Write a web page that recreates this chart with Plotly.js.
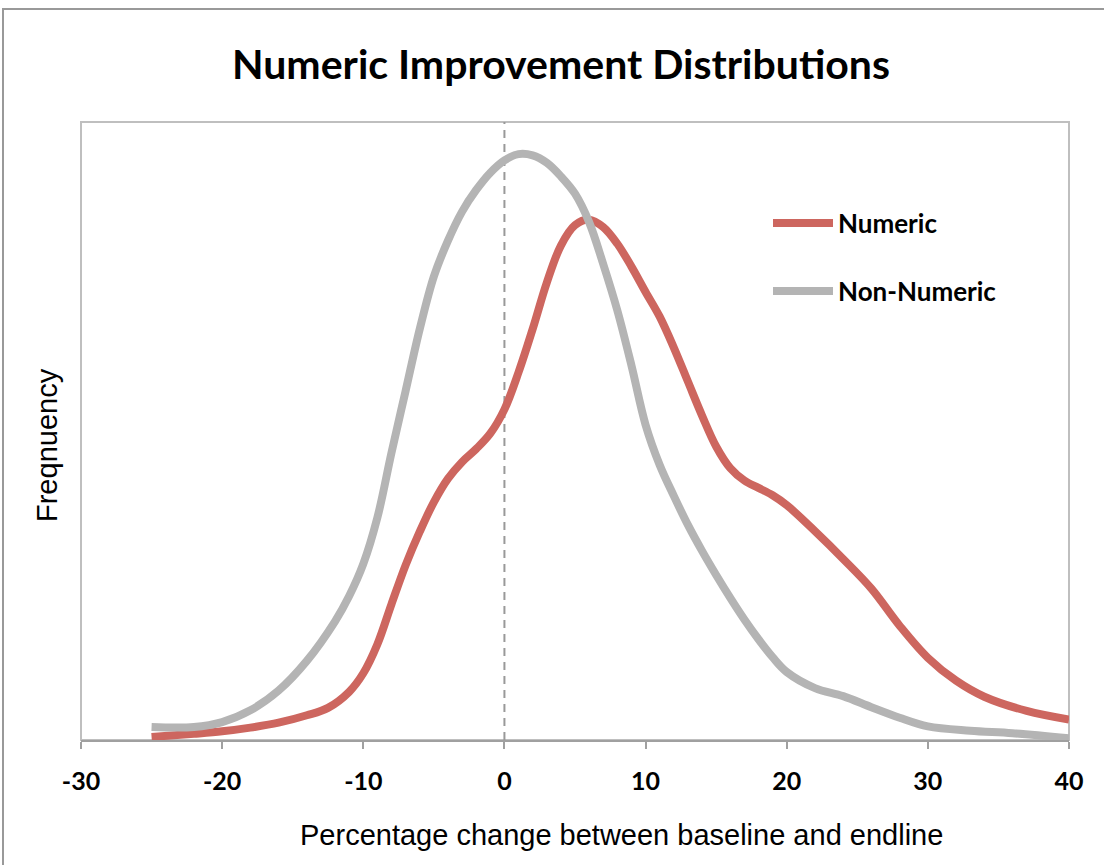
<!DOCTYPE html>
<html>
<head>
<meta charset="utf-8">
<script src="https://cdn.plot.ly/plotly-3.0.1.min.js"></script>
<style>
  html, body { margin: 0; padding: 0; background: #fff; }
  #chart { width: 1104px; height: 865px; }
</style>
</head>
<body>
<div id="chart"></div>
<script>
// Percentage change (x) and relative frequency (y, arbitrary units)
const numericX = [-25, -22, -20, -18, -16, -14, -12.5, -11, -10, -9, -8, -7, -6, -5, -4, -3, -2, -1, 0, 1, 2, 3, 4, 5, 6, 7, 8, 9, 10, 11, 12, 13, 14, 15, 16, 17, 18, 19, 20, 22, 24, 26, 28, 30, 32, 34, 37, 40];
const numericY = [0.5, 1.0, 1.4, 2.0, 2.8, 4.0, 5.2, 7.8, 10.8, 15.5, 22.0, 28.3, 33.7, 38.5, 42.3, 45.0, 47.1, 49.6, 53.5, 59.5, 66.5, 74.0, 80.0, 83.3, 84.2, 83.0, 80.3, 76.6, 72.5, 68.5, 63.5, 58.0, 52.5, 47.5, 44.0, 42.0, 40.8, 39.6, 38.0, 33.8, 29.3, 24.5, 18.5, 13.3, 9.6, 7.0, 4.7, 3.3];

const nonNumericX = [-25, -22, -20, -18, -16, -14, -12, -11, -10, -9, -8, -7, -6, -5, -4, -3, -2, -1, 0, 1, 2, 3, 4, 5, 6, 7, 8, 9, 10, 11, 12, 13, 14, 15, 16, 17, 18, 19, 20, 22, 24, 26, 28, 30, 33, 36, 40];
const nonNumericY = [2.1, 2.1, 2.9, 4.8, 8.0, 12.8, 19.2, 23.3, 28.5, 36.0, 46.5, 56.5, 66.5, 75.0, 80.8, 85.5, 89.0, 91.8, 93.8, 94.8, 94.6, 93.4, 91.2, 88.4, 83.8, 77.0, 69.5, 60.6, 51.0, 44.5, 39.5, 34.8, 30.6, 26.7, 23.0, 19.5, 16.3, 13.4, 11.0, 8.4, 7.1, 5.3, 3.6, 2.2, 1.5, 1.1, 0.3];

const xTicks = [-30, -20, -10, 0, 10, 20, 30, 40];
const seriesNames = ['Numeric', 'Non-Numeric'];
const seriesColors = ['#CD665F', '#B4B4B4'];
const xTitle = 'Percentage change between baseline and endline';
const yTitle = 'Freqnuency';

const traces = [
  {
    x: numericX, y: numericY, name: seriesNames[0], type: 'scatter', mode: 'lines',
    line: { color: seriesColors[0], width: 8, shape: 'spline', smoothing: 1 },
    legend: 'legend', hoverinfo: 'skip'
  },
  {
    x: nonNumericX, y: nonNumericY, name: seriesNames[1], type: 'scatter', mode: 'lines',
    line: { color: seriesColors[1], width: 8, shape: 'spline', smoothing: 1 },
    legend: 'legend2', hoverinfo: 'skip'
  }
];

const legendFont = { family: 'Lato, "Open Sans", sans-serif', size: 26, color: '#000', weight: 'bold' };
const axisTitleFont = { family: '"Liberation Sans", Arial, sans-serif', size: 29, color: '#000' };

const layout = {
  width: 1104, height: 865,
  margin: { l: 81, r: 35, t: 122, b: 125 },
  paper_bgcolor: '#fff', plot_bgcolor: '#fff',
  title: {
    text: '<b>Numeric Improvement Distributions</b>',
    font: { family: 'Lato, "Open Sans", sans-serif', size: 41, color: '#000' },
    x: 561 / 1104, xref: 'container', xanchor: 'center',
    y: 1 - 65 / 865, yref: 'container', yanchor: 'middle'
  },
  xaxis: {
    range: [-30, 40], tickmode: 'array', tickvals: xTicks, ticktext: xTicks.map(String),
    showgrid: false, zeroline: false,
    showline: true, linecolor: '#A0A0A0', linewidth: 2,
    ticks: 'outside', ticklen: 7, tickwidth: 2, tickcolor: '#A0A0A0',
    ticklabelstandoff: 11,
    tickfont: { family: 'Lato, "Open Sans", sans-serif', size: 25, color: '#000', weight: 'bold' },
    fixedrange: true
  },
  yaxis: {
    range: [0, 100], showgrid: false, zeroline: false, showline: false,
    showticklabels: false, ticks: '',
    fixedrange: true
  },
  annotations: [
    { text: xTitle, xref: 'paper', yref: 'paper', x: (621 - 81) / 988, y: (740 - 835) / 618,
      xanchor: 'center', yanchor: 'middle', showarrow: false, font: axisTitleFont },
    { text: yTitle, xref: 'paper', yref: 'paper', x: (47 - 81) / 988, y: (740 - 445) / 618,
      xanchor: 'center', yanchor: 'middle', textangle: -90, showarrow: false, font: axisTitleFont }
  ],
  shapes: [
    // plot frame
    { type: 'rect', xref: 'paper', yref: 'paper', x0: 0, x1: 1, y0: 0, y1: 1,
      line: { color: '#BFBFBF', width: 2 }, layer: 'below' },
    // zero reference line
    { type: 'line', xref: 'x', yref: 'paper', x0: 0, x1: 0, y0: 0, y1: 1,
      line: { color: '#999999', width: 2, dash: '8px,6px' }, layer: 'below' },
    // outer chart border (top and left)
    { type: 'path', xref: 'paper', yref: 'paper',
      path: 'M ' + ((3 - 81) / 988) + ',' + ((740 - 870) / 618) + ' L ' + ((3 - 81) / 988) + ',' + ((740 - 9) / 618) + ' L ' + ((1106 - 81) / 988) + ',' + ((740 - 9) / 618),
      line: { color: '#999999', width: 2 } }
  ],
  legend: {
    x: (768 - 81) / 988, xanchor: 'left', y: (740 - 223) / 618, yanchor: 'middle',
    bgcolor: 'rgba(0,0,0,0)', font: legendFont, itemwidth: 60
  },
  legend2: {
    x: (768 - 81) / 988, xanchor: 'left', y: (740 - 291) / 618, yanchor: 'middle',
    bgcolor: 'rgba(0,0,0,0)', font: legendFont, itemwidth: 60
  },
  showlegend: true
};

Plotly.newPlot('chart', traces, layout, { displayModeBar: false, staticPlot: true });
</script>
</body>
</html>
